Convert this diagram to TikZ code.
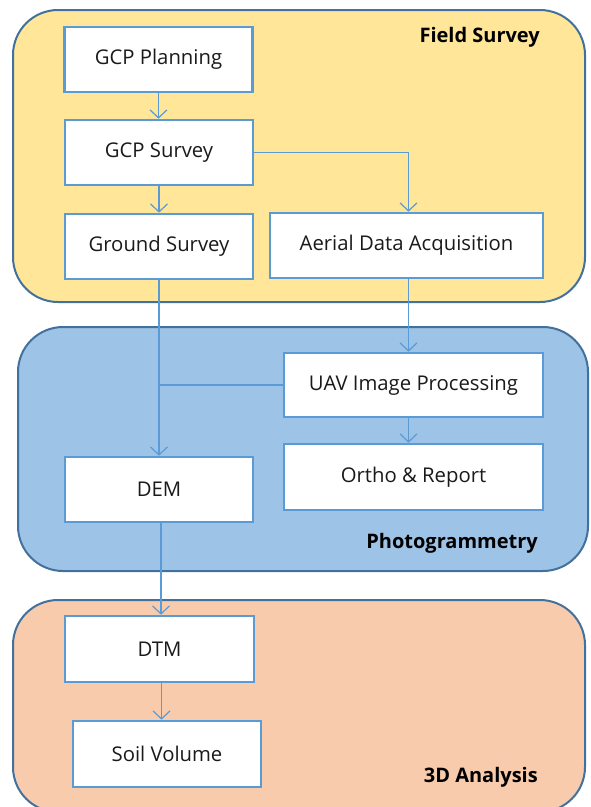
\documentclass[tikz,border=0pt]{standalone}
\usepackage{fontspec}
\setmainfont{Open Sans}
\usetikzlibrary{arrows.meta}
\definecolor{fsfill}{HTML}{FFE699}
\definecolor{phfill}{HTML}{9DC3E6}
\definecolor{anfill}{HTML}{F8CBAD}
\definecolor{panelline}{HTML}{41719C}
\definecolor{boxline}{HTML}{5B9BD5}
\definecolor{txt}{HTML}{1A1A1A}
\tikzset{
  panel/.style={draw=panelline, line width=2pt, rounded corners=45pt},
  stepbox/.style={draw=boxline, line width=2.6pt, fill=white, inner sep=0pt,
    text=txt, font=\fontsize{20.3}{24}\selectfont},
  paneltitle/.style={font=\bfseries\fontsize{20}{24}\selectfont, text=black, anchor=east, inner sep=0pt},
  flow/.style={draw=boxline, line width=1.2pt, -{Straight Barb[length=8pt,width=17pt,line width=1.2pt]}},
  flowplain/.style={draw=boxline, line width=1.2pt}
}
\begin{document}
\begin{tikzpicture}[x=1pt,y=-1pt]
\useasboundingbox (0,0) rectangle (590,807);
\clip (0,0) rectangle (590,807);
% panels
\path[panel, fill=fsfill] (13,10) rectangle (585,302);
\path[panel, fill=phfill] (18,327) rectangle (588,571);
\path[panel, fill=anfill] (13,600) rectangle (585,812);
\node[paneltitle] (tfs) at (540,37) {Field Survey};
\node[paneltitle] (tph) at (538,543) {Photogrammetry};
\node[paneltitle] (tan) at (538,777) {3D Analysis};
% nodes
\node[stepbox, minimum width=188pt, minimum height=65pt] (plan) at (158.5,59.5) {GCP Planning};
\node[stepbox, minimum width=188pt, minimum height=65pt] (gcps) at (159,152.5) {GCP Survey};
\node[stepbox, minimum width=188pt, minimum height=65pt] (gnd) at (159,246.5) {Ground Survey};
\node[stepbox, minimum width=273pt, minimum height=65pt] (aer) at (406.5,245.5) {Aerial Data Acquisition};
\node[stepbox, minimum width=259pt, minimum height=64pt] (uav) at (413.5,385) {UAV Image Processing};
\node[stepbox, minimum width=259pt, minimum height=66pt] (orth) at (413.5,477) {Ortho \& Report};
\node[stepbox, minimum width=188pt, minimum height=65pt] (dem) at (159,489.5) {DEM};
\node[stepbox, minimum width=189pt, minimum height=66pt] (dtm) at (159.5,649) {DTM};
\node[stepbox, minimum width=188pt, minimum height=66pt] (soil) at (167,754) {Soil Volume};
% connectors
\coordinate (j) at (gnd.south |- uav.west);
\draw[flow] (plan.south) -- (plan.south |- gcps.north);
\draw[flow] (gcps.south) -- (gcps.south |- gnd.north);
\draw[flow] (gcps.east) -| ([xshift=2pt]aer.north);
\draw[flow] ([xshift=2pt]aer.south) -- ([xshift=2pt]aer.south |- uav.north);
\draw[flow] (gnd.south) -- (gnd.south |- dem.north);
\draw[flowplain] (uav.west) -- (j);
\draw[flow] ([xshift=-5pt]uav.south) -- ([xshift=-5pt]uav.south |- orth.north);
\draw[flow] ([xshift=2pt]dem.south) -- ([xshift=2pt]dem.south |- dtm.north);
\draw[flow] ([xshift=2pt]dtm.south) -- ([xshift=2pt]dtm.south |- soil.north);
\end{tikzpicture}
\end{document}
